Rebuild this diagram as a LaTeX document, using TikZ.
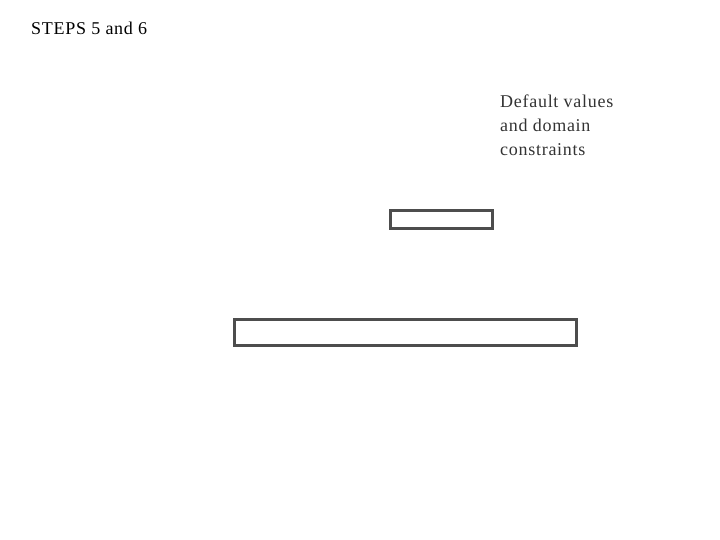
\documentclass[tikz,border=0pt]{standalone}
\usepackage{fontspec}
\setmainfont{Liberation Serif}[LetterSpace=4]
\definecolor{boxgray}{HTML}{4D4D4D}
\definecolor{txtgray}{HTML}{333333}
\tikzset{
  emptybox/.style={draw=boxgray, line width=3pt, inner sep=0pt, fill=white},
  titletext/.style={font=\fontsize{18pt}{24pt}\selectfont, inner sep=0pt, text=black},
  notetext/.style={font=\fontsize{18pt}{24pt}\selectfont, inner sep=0pt, text=txtgray, align=left}
}
\begin{document}
\begin{tikzpicture}[x=1pt,y=-1pt]
\useasboundingbox (0,0) rectangle (720,540);
\node[titletext, anchor=base west] (title) at (31,35) {STEPS 5 and 6};
\node[notetext, anchor=north west] (note) at (500,94.5) {Default values\\and domain\\constraints};
\node[emptybox, minimum width=101.5pt, minimum height=17.5pt] (box1) at (441.25,219.3) {};
\node[emptybox, minimum width=341.5pt, minimum height=26pt] (box2) at (405.25,332.5) {};
\end{tikzpicture}
\end{document}
